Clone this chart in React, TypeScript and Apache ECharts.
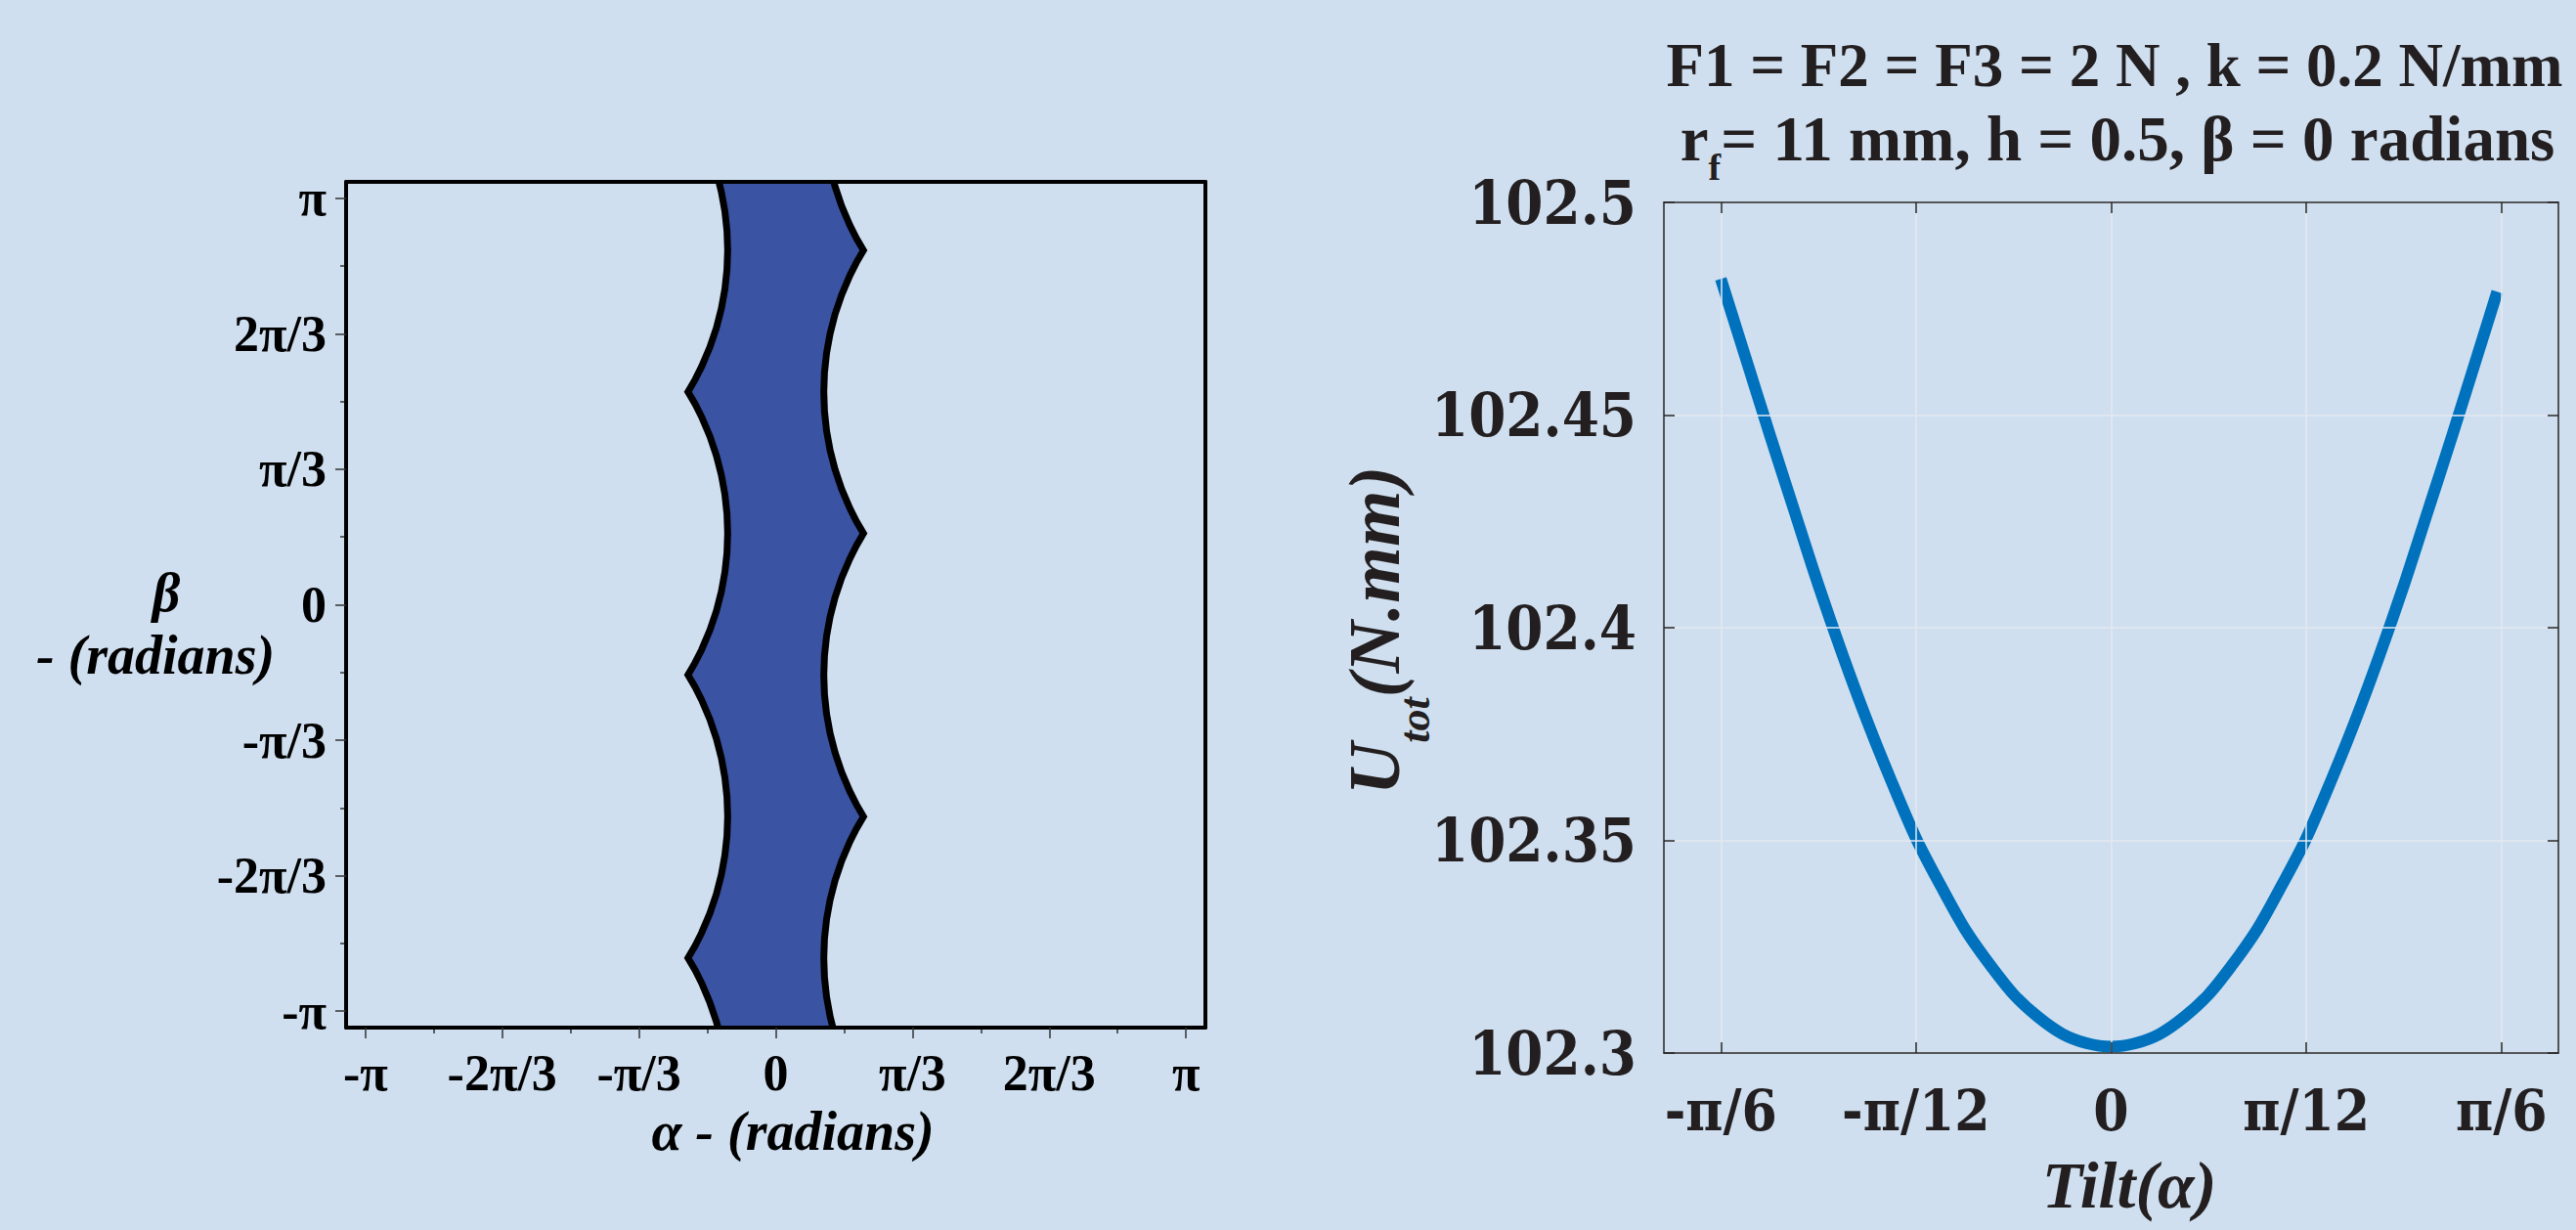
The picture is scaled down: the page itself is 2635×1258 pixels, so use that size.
import React, { useEffect, useRef } from 'react';
import * as echarts from 'echarts';

const PI = Math.PI;

// ---- Left chart: boundary curves of the blue region (beta from top to bottom, alpha) ----
const leftEdgeBeta = [
  3.3, 3.1915, 3.0415, 2.8915, 2.7415, 2.5915, 2.4415, 2.2915, 2.1415, 1.9915, 1.8415, 1.7415, 1.647,
  1.5525, 1.4525, 1.3025, 1.1525, 1.0025, 0.8525, 0.7025, 0.5525, 0.4025, 0.2525, 0.1025, -0.0475,
  -0.1975, -0.3475, -0.4475, -0.542, -0.6365, -0.7365, -0.8865, -1.0365, -1.1865, -1.3365, -1.4865,
  -1.6365, -1.7865, -1.9365, -2.0865, -2.2365, -2.3865, -2.5365, -2.6365, -2.731, -2.8255, -2.9255,
  -3.0755, -3.2255, -3.3,
];
const leftEdgeAlpha = [
  -0.4425, -0.4161, -0.3893, -0.3733, -0.368, -0.3733, -0.3893, -0.4161, -0.4542, -0.5044, -0.5674, -0.6172, -0.672,
  -0.6172, -0.5674, -0.5044, -0.4542, -0.4161, -0.3893, -0.3733, -0.368, -0.3733, -0.3893, -0.4161, -0.4542,
  -0.5044, -0.5674, -0.6172, -0.672, -0.6172, -0.5674, -0.5044, -0.4542, -0.4161, -0.3893, -0.3733,
  -0.368, -0.3733, -0.3893, -0.4161, -0.4542, -0.5044, -0.5674, -0.6172, -0.672, -0.6172, -0.5674,
  -0.5044, -0.4542, -0.4339,
];
const rightEdgeBeta = [
  3.3, 3.2345, 3.0845, 2.9345, 2.8345, 2.74, 2.6455, 2.5455, 2.3955, 2.2455, 2.0955, 1.9455, 1.7955,
  1.6455, 1.4955, 1.3455, 1.1955, 1.0455, 0.8955, 0.7455, 0.6455, 0.551, 0.4565, 0.3565, 0.2065,
  0.0565, -0.0935, -0.2435, -0.3935, -0.5435, -0.6935, -0.8435, -0.9935, -1.1435, -1.2935, -1.4435,
  -1.5435, -1.638, -1.7325, -1.8325, -1.9825, -2.1325, -2.2825, -2.4325, -2.5825, -2.7325, -2.8825,
  -3.0325, -3.1825, -3.3,
];
const rightEdgeAlpha = [
  0.436, 0.4542, 0.5044, 0.5674, 0.6172, 0.672, 0.6172, 0.5674, 0.5044, 0.4542, 0.4161, 0.3893, 0.3733,
  0.368, 0.3733, 0.3893, 0.4161, 0.4542, 0.5044, 0.5674, 0.6172, 0.672, 0.6172, 0.5674, 0.5044,
  0.4542, 0.4161, 0.3893, 0.3733, 0.368, 0.3733, 0.3893, 0.4161, 0.4542, 0.5044, 0.5674,
  0.6172, 0.672, 0.6172, 0.5674, 0.5044, 0.4542, 0.4161, 0.3893, 0.3733, 0.368, 0.3733,
  0.3893, 0.4161, 0.445,
];

const piTickValues = [-PI, -2 * PI / 3, -PI / 3, 0, PI / 3, 2 * PI / 3, PI];
const piTickLabels = ['-π', '-2π/3', '-π/3', '0', 'π/3', '2π/3', 'π'];
const piMinorValues = [-5 * PI / 6, -PI / 2, -PI / 6, PI / 6, PI / 2, 5 * PI / 6];

// ---- Right chart: U_tot vs tilt ----
const tiltAlpha = [
  -0.5236, -0.4909, -0.4581, -0.4254, -0.3927, -0.36, -0.3272, -0.2945, -0.2618, -0.2291, -0.1963,
  -0.1636, -0.1309, -0.0982, -0.0654, -0.0327, 0,
  0.0327, 0.0654, 0.0982, 0.1309, 0.1636, 0.1963, 0.2291, 0.2618, 0.2945, 0.3272, 0.36, 0.3927,
  0.4254, 0.4581, 0.4909, 0.518,
];
const tiltEnergy = [
  102.482, 102.4638, 102.4455, 102.4277, 102.41, 102.3935, 102.378, 102.3638, 102.3505, 102.3395, 102.3292,
  102.321, 102.3138, 102.3085, 102.3045, 102.3023, 102.3015,
  102.3023, 102.3045, 102.3085, 102.3138, 102.321, 102.3292, 102.3395, 102.3505, 102.3638, 102.378, 102.3935, 102.41,
  102.4277, 102.4455, 102.4638, 102.479,
];
const tiltTickValues = [-PI / 6, -PI / 12, 0, PI / 12, PI / 6];
const tiltTickLabels = ['-π/6', '-π/12', '0', 'π/12', 'π/6'];
const energyTickValues = [102.3, 102.35, 102.4, 102.45, 102.5];
const energyTickLabels = ['102.3', '102.35', '102.4', '102.45', '102.5'];

const BG = '#CFDFEF';
const TIMES = '"Liberation Serif", "Times New Roman", serif';
const COND = '"DejaVu Serif Condensed", "DejaVu Serif", serif';
const DARK = '#231F20';

function labelFor(values: number[], labels: string[]) {
  return (v: number) => {
    let best = 0;
    for (let i = 1; i < values.length; i++) {
      if (Math.abs(values[i] - v) < Math.abs(values[best] - v)) best = i;
    }
    return labels[best];
  };
}

export default function App() {
  const ref = useRef<HTMLDivElement>(null);

  useEffect(() => {
    document.body.style.margin = '0';
    document.body.style.background = BG;
    const chart = echarts.init(ref.current as HTMLDivElement, null, { renderer: 'svg', width: 2635, height: 1258 });

    const leftTickLine = { color: '#333', width: 1.5 };
    const rightLine = { color: '#262626', width: 1.5 };
    const leftLabel = { color: '#000', fontFamily: TIMES, fontWeight: 'bold', fontSize: 52 };

    const option: any = {
      animation: false,
      backgroundColor: BG,
      grid: [
        { left: 354, top: 186, width: 879, height: 865, show: false, containLabel: false, outerBoundsMode: 'none' },
        { left: 1702, top: 207, width: 915, height: 870, show: false, containLabel: false, outerBoundsMode: 'none' },
      ],
      xAxis: [
        {
          gridIndex: 0, type: 'value', position: 'bottom', min: -3.29, max: 3.29, z: 10,
          axisLine: { show: true, onZero: false, lineStyle: { color: '#000', width: 4 } },
          axisTick: { show: true, inside: false, length: 11, customValues: piTickValues, lineStyle: leftTickLine },
          axisLabel: { show: true, customValues: piTickValues, formatter: labelFor(piTickValues, piTickLabels), margin: 20, ...leftLabel },
          splitLine: { show: false },
        },
        {
          gridIndex: 0, type: 'value', position: 'bottom', min: -3.29, max: 3.29,
          axisLine: { show: false, onZero: false },
          axisTick: { show: true, inside: false, length: 6, customValues: piMinorValues, lineStyle: leftTickLine },
          axisLabel: { show: false },
          splitLine: { show: false },
        },
        {
          gridIndex: 0, type: 'value', position: 'top', min: -3.29, max: 3.29, z: 10,
          axisLine: { show: true, onZero: false, lineStyle: { color: '#000', width: 4 } },
          axisTick: { show: false },
          axisLabel: { show: false },
          splitLine: { show: false },
        },
        {
          gridIndex: 1, type: 'value', position: 'bottom', min: -0.6, max: 0.6, z: 5,
          axisLine: { show: true, onZero: false, lineStyle: rightLine },
          axisTick: { show: true, inside: true, length: 11, customValues: tiltTickValues, lineStyle: rightLine },
          axisLabel: {
            show: true, customValues: tiltTickValues, formatter: labelFor(tiltTickValues, tiltTickLabels), margin: 30,
            color: DARK, fontFamily: COND, fontWeight: 'bold', fontSize: 58,
          },
          splitLine: { show: true, lineStyle: { color: '#E4E9F0', width: 1.5 } },
        },
        {
          gridIndex: 1, type: 'value', position: 'top', min: -0.6, max: 0.6, z: 5,
          axisLine: { show: true, onZero: false, lineStyle: rightLine },
          axisTick: { show: true, inside: true, length: 11, customValues: tiltTickValues, lineStyle: rightLine },
          axisLabel: { show: false },
          splitLine: { show: false },
        },
      ],
      yAxis: [
        {
          gridIndex: 0, type: 'value', position: 'left', min: -3.27, max: 3.27, z: 10,
          axisLine: { show: true, onZero: false, lineStyle: { color: '#000', width: 4 } },
          axisTick: { show: true, inside: false, length: 11, customValues: piTickValues, lineStyle: leftTickLine },
          axisLabel: { show: true, customValues: piTickValues, formatter: labelFor(piTickValues, piTickLabels), margin: 20, ...leftLabel },
          splitLine: { show: false },
        },
        {
          gridIndex: 0, type: 'value', position: 'left', min: -3.27, max: 3.27,
          axisLine: { show: false, onZero: false },
          axisTick: { show: true, inside: false, length: 6, customValues: piMinorValues, lineStyle: leftTickLine },
          axisLabel: { show: false },
          splitLine: { show: false },
        },
        {
          gridIndex: 0, type: 'value', position: 'right', min: -3.27, max: 3.27, z: 10,
          axisLine: { show: true, onZero: false, lineStyle: { color: '#000', width: 4 } },
          axisTick: { show: false },
          axisLabel: { show: false },
          splitLine: { show: false },
        },
        {
          gridIndex: 1, type: 'value', position: 'left', min: 102.3, max: 102.5, interval: 0.05, z: 5,
          axisLine: { show: true, onZero: false, lineStyle: rightLine },
          axisTick: { show: true, inside: true, length: 11, lineStyle: rightLine },
          axisLabel: {
            show: true, formatter: labelFor(energyTickValues, energyTickLabels), margin: 28,
            color: DARK, fontFamily: COND, fontWeight: 'bold', fontSize: 61,
          },
          splitLine: { show: true, lineStyle: { color: '#E4E9F0', width: 1.5 } },
        },
        {
          gridIndex: 1, type: 'value', position: 'right', min: 102.3, max: 102.5, interval: 0.05, z: 5,
          axisLine: { show: true, onZero: false, lineStyle: rightLine },
          axisTick: { show: true, inside: true, length: 11, lineStyle: rightLine },
          axisLabel: { show: false },
          splitLine: { show: false },
        },
      ],
      series: [
        {
          type: 'custom',
          xAxisIndex: 0,
          yAxisIndex: 0,
          clip: true,
          silent: true,
          z: 2,
          data: [[0, 0]],
          renderItem: (_params: any, api: any) => {
            const left = leftEdgeAlpha.map((a, i) => api.coord([a, leftEdgeBeta[i]]));
            const right = rightEdgeAlpha.map((a, i) => api.coord([a, rightEdgeBeta[i]]));
            const poly = left.concat(right.slice().reverse());
            return {
              type: 'group',
              children: [
                { type: 'polygon', shape: { points: poly }, style: { fill: '#3A53A3', stroke: 'none' } },
                { type: 'polyline', shape: { points: left }, style: { fill: 'none', stroke: '#000', lineWidth: 7, lineJoin: 'miter', miterLimit: 10 } },
                { type: 'polyline', shape: { points: right }, style: { fill: 'none', stroke: '#000', lineWidth: 7, lineJoin: 'miter', miterLimit: 10 } },
              ],
            };
          },
        },
        {
          type: 'line',
          xAxisIndex: 3,
          yAxisIndex: 3,
          data: tiltAlpha.map((a, i) => [a, tiltEnergy[i]]),
          showSymbol: false,
          symbol: 'none',
          smooth: 0.3,
          clip: false,
          z: 3,
          lineStyle: { color: '#0072BD', width: 12, cap: 'butt', join: 'round' },
        },
      ],
      graphic: {
        elements: [
          {
            type: 'text', x: 2163, y: 67, silent: true,
            style: {
              text: 'F1 = F2 = F3 = 2 N , k = 0.2 N/mm', fontFamily: TIMES, fontWeight: 'bold', fontSize: 63,
              fill: DARK, align: 'center', verticalAlign: 'middle',
            },
          },
          {
            type: 'text', x: 2166, y: 142, silent: true,
            style: {
              text: '{m|r}{s|f}{m|= 11 mm, h = 0.5, β = 0 radians}',
              align: 'center', verticalAlign: 'middle', fill: DARK,
              rich: {
                m: { fontFamily: TIMES, fontWeight: 'bold', fontSize: 65, lineHeight: 96, verticalAlign: 'middle', fill: DARK },
                s: { fontFamily: TIMES, fontWeight: 'bold', fontSize: 38, lineHeight: 40, verticalAlign: 'bottom', fill: DARK },
              },
            },
          },
          {
            type: 'text', x: 1406, y: 645, rotation: PI / 2, silent: true,
            style: {
              text: '{u|U}{s|tot}{u|(N.mm)}',
              align: 'center', verticalAlign: 'middle', fill: DARK,
              rich: {
                u: { fontFamily: TIMES, fontWeight: 'bold', fontStyle: 'italic', fontSize: 74, lineHeight: 126, verticalAlign: 'middle', fill: DARK },
                s: { fontFamily: TIMES, fontWeight: 'bold', fontStyle: 'italic', fontSize: 44, lineHeight: 44, verticalAlign: 'bottom', fill: DARK },
              },
            },
          },
          {
            type: 'text', x: 2178, y: 1212, silent: true,
            style: {
              text: 'Tilt(α)', fontFamily: TIMES, fontWeight: 'bold', fontStyle: 'italic', fontSize: 68,
              fill: DARK, align: 'center', verticalAlign: 'middle',
            },
          },
          {
            type: 'text', x: 170, y: 606, silent: true,
            style: {
              text: 'β', fontFamily: TIMES, fontWeight: 'bold', fontStyle: 'italic', fontSize: 56,
              fill: '#000', align: 'center', verticalAlign: 'middle',
            },
          },
          {
            type: 'text', x: 159, y: 670, silent: true,
            style: {
              text: '- (radians)', fontFamily: TIMES, fontWeight: 'bold', fontStyle: 'italic', fontSize: 56,
              fill: '#000', align: 'center', verticalAlign: 'middle',
            },
          },
          {
            type: 'text', x: 811, y: 1157, silent: true,
            style: {
              text: 'α - (radians)', fontFamily: TIMES, fontWeight: 'bold', fontStyle: 'italic', fontSize: 56,
              fill: '#000', align: 'center', verticalAlign: 'middle',
            },
          },
        ],
      },
    };

    chart.setOption(option);
    return () => {
      chart.dispose();
    };
  }, []);

  return (
    <div
      ref={ref}
      style={{ position: 'fixed', left: 0, top: 0, width: 2635, height: 1258, background: BG }}
    />
  );
}
